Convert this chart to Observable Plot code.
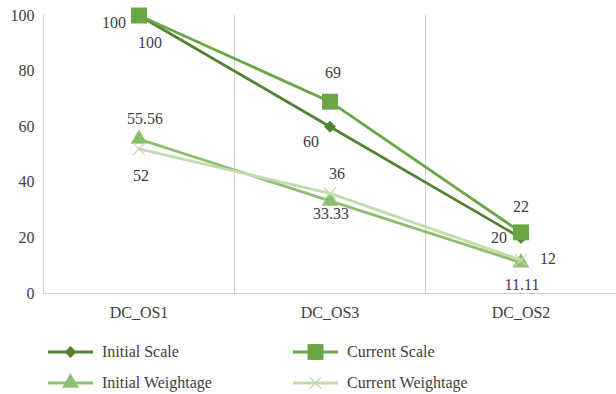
<!DOCTYPE html>
<html>
<head>
<meta charset="utf-8">
<script src="https://cdn.jsdelivr.net/npm/d3@7"></script>
<script src="https://cdn.jsdelivr.net/npm/@observablehq/plot@0.6"></script>
<style>
  html, body, div, span, svg, text, tspan { font-family: 'Liberation Serif' !important; }
</style>
</head>
<body style="margin:0;background:#fff">
<div id="chart"></div>
<div id="legend" style="position:relative;width:616px;height:68px"></div>
<script>
// Categories along the x axis, in display order
const categories = ["DC_OS1", "DC_OS3", "DC_OS2"];
const seriesNames = ["Initial Scale", "Current Scale", "Initial Weightage", "Current Weightage"];

// Series values per category
const initialScale = [100, 60, 20];
const currentScale = [100, 69, 22];
const initialWeightage = [55.56, 33.33, 11.11];
const currentWeightage = [52, 36, 12];

const yTicks = [0, 20, 40, 60, 80, 100];

const valuesBySeries = [initialScale, currentScale, initialWeightage, currentWeightage];

const font = "'Liberation Serif'";
const fontSize = 16;

// Appearance of each series: stroke colour and marker
const look = {
  "Initial Scale":     {color: "#548235", symbol: "square",   r: 4.8, rotate: 45},
  "Current Scale":     {color: "#6aa744", symbol: "square",   r: 9,   rotate: 0},
  "Initial Weightage": {color: "#8dbf6e", symbol: "triangle", r: 6.2, rotate: 0},
  "Current Weightage": {color: "#c2dcb0", symbol: "times",    r: 5.5, rotate: 0}
};

// Where each value label sits relative to its point [dx, dy]
const labelOffset = {
  "Initial Scale":     [[-25, 7], [-19, 15], [-22, 0]],
  "Current Scale":     [[11, 27], [3, -29], [0, -25]],
  "Initial Weightage": [[6, -20], [1, 13], [1, 22]],
  "Current Weightage": [[2, 27], [7, -20], [27, -1]]
};

const rows = seriesNames.flatMap((s, k) =>
  valuesBySeries[k].map((v, i) => ({series: s, i, category: categories[i], value: v}))
);

const textColor = "#404040";
const gridColor = "#d0d0d0";

const marks = [
  Plot.ruleX(categories.map((c, i) => i - 0.5), {stroke: gridColor, strokeWidth: 1}),
  Plot.ruleY([0], {stroke: gridColor, strokeWidth: 1}),
  Plot.axisY({ticks: yTicks, tickSize: 0, tickPadding: 9, fontSize, color: textColor, label: null}),
  Plot.axisX({ticks: categories.map((c, i) => i), tickFormat: i => categories[i], tickSize: 0, tickPadding: 13, fontSize, color: textColor, label: null})
];

for (const s of seriesNames) {
  const data = rows.filter(d => d.series === s);
  const st = look[s];
  marks.push(Plot.line(data, {x: "i", y: "value", stroke: st.color, strokeWidth: 2.8}));
  if (st.symbol === "times") {
    marks.push(Plot.dot(data, {x: "i", y: "value", symbol: "times", r: st.r, stroke: st.color, strokeWidth: 1.3}));
  } else {
    marks.push(Plot.dot(data, {x: "i", y: "value", symbol: st.symbol, r: st.r, fill: st.color, stroke: "none", rotate: st.rotate}));
  }
}

for (const d of rows) {
  const [dx, dy] = labelOffset[d.series][d.i];
  marks.push(Plot.text([d], {x: "i", y: "value", text: d => String(d.value), dx, dy, fontSize, fill: textColor}));
}

const chart = Plot.plot({
  width: 616,
  height: 326,
  marginLeft: 43,
  marginRight: 0,
  marginTop: 15,
  marginBottom: 33,
  x: {type: "linear", domain: [-0.5, categories.length - 0.5]},
  y: {domain: [0, 100]},
  marks
});
chart.setAttribute("font-family", "Liberation Serif");
chart.style.display = "block";
document.getElementById("chart").appendChild(chart);

// Legend: two columns, two rows
const legend = d3.select("#legend");
const spots = [[48, 16], [293, 16], [48, 47], [293, 47]];
seriesNames.forEach((s, k) => {
  const st = look[s];
  const item = legend.append("div")
    .style("position", "absolute").style("display", "flex").style("align-items", "center")
    .style("height", "20px").style("font-family", font).style("font-size", fontSize + "px")
    .style("color", textColor)
    .style("left", spots[k][0] + "px").style("top", spots[k][1] + "px");
  const svg = item.append("svg").attr("width", 45).attr("height", 20).style("margin-right", "9px");
  svg.append("line").attr("x1", 0).attr("x2", 45).attr("y1", 10).attr("y2", 10)
    .attr("stroke", st.color).attr("stroke-width", 2.8);
  const sym = {square: d3.symbolSquare, triangle: d3.symbolTriangle, times: d3.symbolTimes}[st.symbol];
  const path = svg.append("path")
    .attr("d", d3.symbol(sym, Math.PI * st.r * st.r)())
    .attr("transform", `translate(22.5,10) rotate(${st.rotate})`);
  if (st.symbol === "times") path.attr("fill", "none").attr("stroke", st.color).attr("stroke-width", 1.3);
  else path.attr("fill", st.color);
  item.append("span").text(s);
});
</script>
</body>
</html>
